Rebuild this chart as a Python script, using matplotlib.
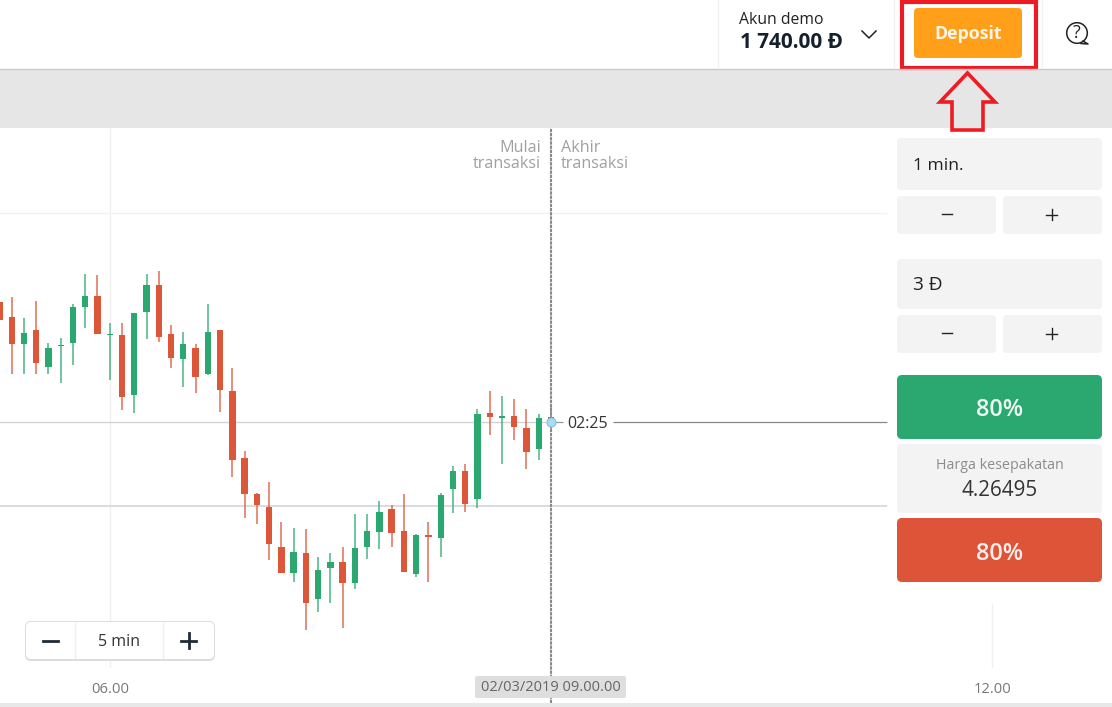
"""Binary options trading screen with a 5 min candlestick chart."""

import matplotlib

matplotlib.use("Agg")
import matplotlib.pyplot as plt  # noqa: E402
from matplotlib.patches import Circle, FancyBboxPatch, Polygon, Rectangle  # noqa: E402

plt.rcParams["font.family"] = ["Open Sans", "DejaVu Sans"]

# candle values, in points away from the deal price 4.26495
candle_index = list(range(-1, 45))
opens = [120, 105.3, 78, 91.7, 55.3, 76.5, 79.3, 115.3, 126.3, 86.7, 86.7, 27, 110.3, 136.7, 88, 63,
         74, 48, 91.7, 31.3, -36, -72, -84.7, -124.7, -150.7, -131, -177, -145.7, -139.7, -160.7,
         -124.7, -109.7, -87.3, -108.7, -152, -113.3, -115.7, -67, -48.7, -76.7, 9, 4.3, 6.3, -6,
         -27, 5]
highs = [125, 125.3, 104, 121.3, 78.7, 83.7, 118, 147.7, 146.7, 98.7, 98.7, 109, 147.7, 151.3, 96.7, 90,
         77.7, 118, 91.7, 53.7, -28.7, -71.3, -60, -100, -106.3, -107.3, -135, -131, -124.7, -92.3,
         -92.3, -78.7, -83.3, -72.3, -112, -100, -71.3, -43.7, -42.3, 12.7, 31.3, 26.3, 22.7, 12.7,
         7.7, 14.7]
lows = [102, 48, 48, 48, 48, 39.3, 56.7, 94.3, 88, 41.7, 11.7, 9.3, 83, 80.3, 54.3, 35.3,
        29.3, 46.7, 10.3, -54.7, -95.7, -102, -138.3, -150.7, -159.7, -208, -189.7, -180.7, -205.7, -167,
        -137, -127, -124.7, -149.7, -154.7, -159.7, -134.7, -90.7, -89.7, -85.7, -13, -42, -18.3, -47,
        -38.3, -10.3]
closes = [102, 78, 89.3, 59.3, 74, 77.5, 115.3, 126.3, 88, 87.7, 25.3, 109, 136.7, 85.3, 64.3, 77.7,
          45.3, 90, 32, -38, -72, -83.3, -122, -150.7, -129.7, -180.7, -148.3, -139.7, -160.7, -126,
          -108.7, -90, -110.7, -149.7, -113.3, -114.7, -73.3, -48.7, -82, 7.7, 5.3, 6.3, -4.7, -29.7,
          4, -0.3]

time_ticks = [8, 44, 80]
time_labels = ["06.00", "", "12.00"]
grid_levels = [209, -84]

GREEN = "#2ba86f"
RED = "#dc563a"
ACCENT = "#ed1c24"
PANEL = "#f3f3f3"
W, H = 1112, 707


def rbox(ax, x0, y0, x1, y1, color, r=4, **kw):
    kw.setdefault("edgecolor", "none")
    ax.add_patch(FancyBboxPatch((x0, y0), x1 - x0, y1 - y0, boxstyle=f"round,pad=0,rounding_size={r}",
                                facecolor=color, **kw))


def px(size):
    return size * 0.72


fig = plt.figure(figsize=(W / 100, H / 100), dpi=100, facecolor="white")

# chart, index 0 sits at x=11.7px and candles are 12.257px apart
ax = fig.add_axes([0, 39 / H, 1, 540 / H])
ax.set_xlim(-11.7 / 12.257, (W - 11.7) / 12.257)
ax.set_ylim(-246, 294)
for s in ax.spines.values():
    s.set_visible(False)
ax.set_yticks([])
ax.set_xticks(time_ticks, time_labels, color="#777777", fontsize=px(14.8))
ax.tick_params(axis="x", length=0, pad=9.8)

chart_right = 71.41
ax.vlines(8, -246, 294, color="#f0f0f0", lw=1)
ax.vlines(80, -246, -181, color="#f0f0f0", lw=1)
ax.hlines(grid_levels[0], -1, chart_right, color="#f2f2f2", lw=1)
ax.hlines(grid_levels[1], -1, chart_right, color="#dcdcdc", lw=1.4)
ax.hlines(0, -1, 44, color="#d4d4d4", lw=1)
ax.hlines(0, 44, 44.98, color="#999999", lw=0.9)
ax.hlines(0, 49.06, chart_right, color="#888888", lw=0.9)

for i, o, h, l, c in zip(candle_index, opens, highs, lows, closes):
    col = GREEN if c >= o else RED
    ax.vlines(i, l, h, color=col, lw=1.1, alpha=0.85, zorder=3)
    ax.bar(i, abs(c - o), bottom=min(o, c), width=0.52, color=col, zorder=3)

# expiry line runs below the axes down to the page strip
ax.axvline(44, ymin=-35 / 540, ymax=1, color="#8a8a8a", lw=1.5, ls=(0, (1.6, 0.4)), clip_on=False, zorder=4)
ax.plot([44], [0], "o", ms=6.5, mfc="#a9dcf2", mec="#7cc4e6", mew=0.8, zorder=5)

# page chrome, drawn in pixel coordinates
ui = fig.add_axes([0, 0, 1, 1], zorder=5)
ui.set_xlim(0, W)
ui.set_ylim(H, 0)
ui.axis("off")

ui.add_patch(Rectangle((0, 69), W, 59, facecolor="#e6e6e6", edgecolor="none"))
ui.plot([0, W], [68.5, 68.5], color="#c9c9c9", lw=1)
ui.add_patch(Rectangle((0, 703), W, 4, facecolor="#e8e8e8", edgecolor="none"))
for x in [718, 894, 1042]:
    ui.plot([x, x], [0, 68], color="#f2f2f2", lw=1)

ui.text(739, 20.5, "Akun demo", fontsize=px(15.8), color="#222222", va="center")
ui.text(740, 43, "1 740.00 Đ", fontsize=px(20.8), color="#14202c", va="center", fontweight="bold")
ui.plot([862, 869, 876], [31, 38, 31], color="#222222", lw=1.1)

rbox(ui, 914, 8, 1022, 58, "#ff9f1a", r=4)
ui.text(968, 34, "Deposit", fontsize=px(17.7), color="#fff6e6", ha="center", va="center", fontweight="bold")
ui.add_patch(Rectangle((901.5, 2), 134, 65.5, facecolor="none", edgecolor=ACCENT, lw=3.0))
ui.add_patch(Polygon([(967.5, 73), (995, 102), (983, 102), (983, 130), (952, 130), (952, 102), (940, 102)],
                     closed=True, facecolor="none", edgecolor=ACCENT, lw=2.6, joinstyle="miter"))

ui.add_patch(Circle((1077, 33), 10.3, facecolor="none", edgecolor="#222222", lw=1.1))
ui.plot([1083, 1088, 1081], [41, 44, 43.5], color="#222222", lw=1.1)
ui.text(1077, 33.5, "?", fontsize=px(18), color="#222222", ha="center", va="center")

ui.text(541, 147.5, "Mulai", fontsize=px(16.1), color="#a0a0a0", ha="right", va="center")
ui.text(541, 164.5, "transaksi", fontsize=px(16.1), color="#a0a0a0", ha="right", va="center")
ui.text(561, 147.5, "Akhir", fontsize=px(16.1), color="#a0a0a0", va="center")
ui.text(561, 164.5, "transaksi", fontsize=px(16.1), color="#a0a0a0", va="center")
ui.text(567, 423.5, "02:25", fontsize=px(16), color="#333333", va="center")

rbox(ui, 475, 676, 626, 698, "#dedede", r=2)
ui.text(550.5, 687.5, "02/03/2019 09.00.00", fontsize=px(14.6), color="#666666", ha="center", va="center")

# zoom control
rbox(ui, 25, 621, 215, 661, "#dcdcdc", r=6)
rbox(ui, 26, 622, 214, 659, "white", r=5, linewidth=0)
for x in [75, 163]:
    ui.plot([x, x], [623, 658], color="#eeeeee", lw=1)
ui.plot([43, 58], [640.5, 640.5], color="#1f2b38", lw=2)
ui.plot([181, 196], [640.5, 640.5], color="#1f2b38", lw=2)
ui.plot([188.5, 188.5], [633, 648], color="#1f2b38", lw=2)
ui.text(119, 642, "5 min", fontsize=px(16), color="#333333", ha="center", va="center")

# right hand panel
rbox(ui, 897, 138, 1102, 190, PANEL)
rbox(ui, 897, 259, 1102, 309, PANEL)
for y0, y1 in [(196, 234), (315, 353)]:
    rbox(ui, 897, y0, 996, y1, PANEL)
    rbox(ui, 1003, y0, 1102, y1, PANEL)
    ym = (y0 + y1) / 2 - 1
    ui.plot([942, 952], [ym, ym], color="#222222", lw=1)
    ui.plot([1046, 1057], [ym + 0.5, ym + 0.5], color="#222222", lw=1)
    ui.plot([1051.5, 1051.5], [ym - 5, ym + 6], color="#222222", lw=1)
ui.text(913, 166, "1 min.", fontsize=px(17.5), color="#222222", va="center")
ui.text(913, 285.5, "3 Đ", fontsize=px(19), color="#222222", va="center")

rbox(ui, 897, 375, 1102, 439, GREEN, r=5)
rbox(ui, 897, 444, 1102, 513, PANEL)
rbox(ui, 897, 518, 1102, 582, "#dd5438", r=5)
ui.text(999.5, 410.5, "80%", fontsize=px(23.5), color="#eefaf4", ha="center", va="center", fontweight="semibold")
ui.text(999.5, 553.5, "80%", fontsize=px(23.5), color="#fdf0ec", ha="center", va="center", fontweight="semibold")
ui.text(999.5, 465.5, "Harga kesepakatan", fontsize=px(14.3), color="#8c8c8c", ha="center", va="center")
ui.text(999.5, 490.5, "4.26495", fontsize=px(20.6), color="#333333", ha="center", va="center")

fig.savefig("out.png", dpi=100)
plt.close(fig)
